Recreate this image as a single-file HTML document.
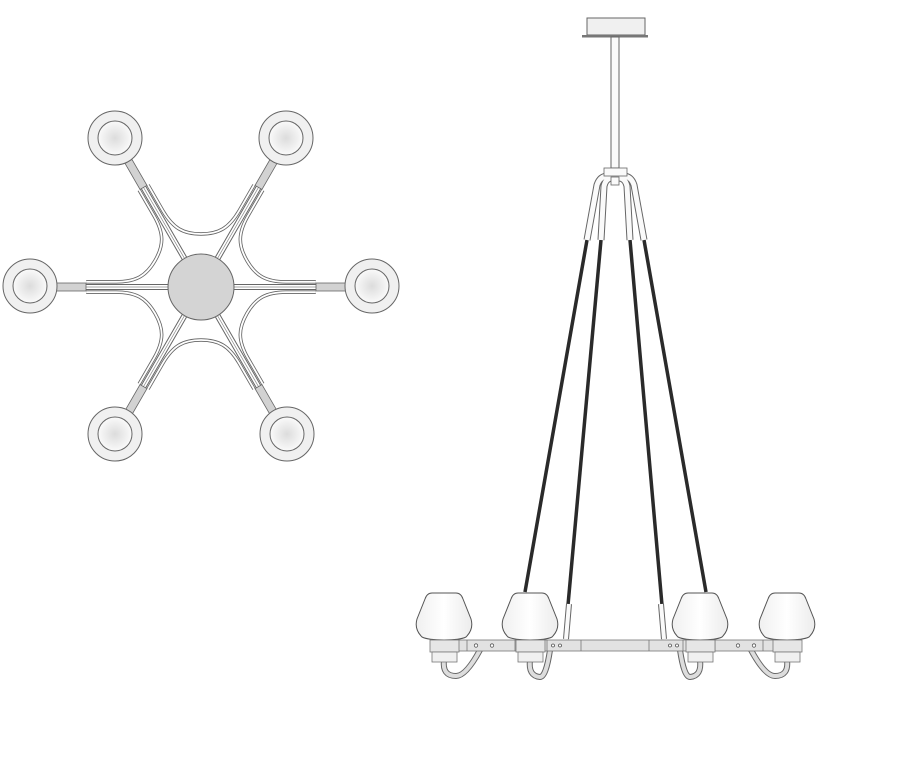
<!DOCTYPE html>
<html><head><style>html,body{margin:0;padding:0;background:#fff;}svg{display:block}</style></head>
<body>
<svg width="914" height="762" viewBox="0 0 914 762" xmlns="http://www.w3.org/2000/svg">
<defs>
<radialGradient id="bulb" cx="0.5" cy="0.5" r="0.5"><stop offset="0" stop-color="#dcdcdc"/><stop offset="1" stop-color="#fafafa"/></radialGradient>
<linearGradient id="shade" x1="0" x2="1"><stop offset="0" stop-color="#f0f0f0"/><stop offset="0.5" stop-color="#fff"/><stop offset="1" stop-color="#ececec"/></linearGradient>
<g id="arm">
<line x1="0" y1="0" x2="0" y2="-150" stroke="#666" stroke-width="6"/>
<line x1="0" y1="0" x2="0" y2="-150" stroke="#fff" stroke-width="4"/>
<line x1="0" y1="0" x2="0" y2="-150" stroke="#888" stroke-width="0.7"/>
<rect x="-4" y="-145" width="8" height="30" fill="#d2d2d2" stroke="#666" stroke-width="0.8"/>
</g>
<g id="curve">
<path d="M-53,-102 L-38,-76 C-28,-59 -18,-53 0,-53 C18,-53 28,-59 38,-76 L53,-102" fill="none" stroke="#666" stroke-width="3.5"/>
<path d="M-53,-102 L-38,-76 C-28,-59 -18,-53 0,-53 C18,-53 28,-59 38,-76 L53,-102" fill="none" stroke="#fff" stroke-width="1.8"/>
</g>
<g id="lamp">
<circle r="27" fill="#f0f0f0" stroke="#666" stroke-width="1"/>
<circle r="17" fill="url(#bulb)" stroke="#666" stroke-width="1"/>
</g>
<g id="shadeg">
<path d="M-12,0 L12,0 Q17,0 19,6 L27,26 Q30,36 22,44 Q16,47 0,47 Q-16,47 -22,44 Q-30,36 -27,26 L-19,6 Q-17,0 -12,0 Z" fill="url(#shade)" stroke="#555" stroke-width="1"/>
<rect x="-14" y="47" width="29" height="12" fill="#e6e6e6" stroke="#777" stroke-width="0.8"/>
<rect x="-12" y="59" width="25" height="10" fill="#f0f0f0" stroke="#777" stroke-width="0.8"/>
</g>
</defs>

<g transform="translate(201,287)">
<use href="#curve"/>
<use href="#curve" transform="rotate(60)"/>
<use href="#curve" transform="rotate(120)"/>
<use href="#curve" transform="rotate(180)"/>
<use href="#curve" transform="rotate(240)"/>
<use href="#curve" transform="rotate(300)"/>
<use href="#arm" transform="rotate(-30)"/>
<use href="#arm" transform="rotate(30)"/>
<use href="#arm" transform="rotate(90)"/>
<use href="#arm" transform="rotate(150)"/>
<use href="#arm" transform="rotate(210)"/>
<use href="#arm" transform="rotate(270)"/>
<circle r="33" fill="#d4d4d4" stroke="#666" stroke-width="1"/>
</g>
<use href="#lamp" x="115" y="138"/>
<use href="#lamp" x="286" y="138"/>
<use href="#lamp" x="30" y="286"/>
<use href="#lamp" x="372" y="286"/>
<use href="#lamp" x="115" y="434"/>
<use href="#lamp" x="287" y="434"/>

<rect x="587" y="18" width="58" height="17" fill="#f0f0f0" stroke="#666" stroke-width="1"/>
<rect x="582" y="35" width="66" height="2.5" fill="#777"/>
<rect x="611" y="37" width="8" height="131" fill="#fafafa" stroke="#666" stroke-width="1"/>
<g stroke="#2a2a2a" stroke-width="3.5" fill="none">
<line x1="587" y1="240" x2="525" y2="592"/>
<line x1="601" y1="240" x2="568" y2="605"/>
<line x1="630" y1="240" x2="662" y2="605"/>
<line x1="644" y1="240" x2="706" y2="592"/>
</g>
<g stroke="#666" stroke-width="7" fill="none">
<path d="M587,240 L597,185 Q600,176 608,176"/>
<path d="M601,240 L604,186 Q606,178 612,178"/>
<path d="M630,240 L627,186 Q625,178 619,178"/>
<path d="M644,240 L634,185 Q631,176 623,176"/>
</g>
<g stroke="#fafafa" stroke-width="5" fill="none">
<path d="M587,240 L597,185 Q600,176 608,176"/>
<path d="M601,240 L604,186 Q606,178 612,178"/>
<path d="M630,240 L627,186 Q625,178 619,178"/>
<path d="M644,240 L634,185 Q631,176 623,176"/>
</g>
<rect x="604" y="168" width="23" height="8" fill="#fafafa" stroke="#666" stroke-width="0.8"/>
<rect x="611" y="177" width="8" height="8" fill="#fafafa" stroke="#666" stroke-width="0.8"/>
<g stroke="#666" stroke-width="6"><line x1="569" y1="604" x2="566" y2="639"/><line x1="661" y1="604" x2="664" y2="639"/></g>
<g stroke="#fafafa" stroke-width="4"><line x1="569" y1="604" x2="566" y2="639"/><line x1="661" y1="604" x2="664" y2="639"/></g>

<g fill="none" stroke="#666" stroke-width="6" stroke-linecap="round">
<path d="M444,660 Q442,676 456,676 Q466,676 480,650"/>
<path d="M530,660 Q528,676 540,677 Q546,677 550,650"/>
<path d="M700,660 Q702,676 690,677 Q684,677 680,650"/>
<path d="M787,660 Q789,676 775,676 Q765,676 751,650"/>
</g>
<g fill="none" stroke="#ddd" stroke-width="4" stroke-linecap="round">
<path d="M444,660 Q442,676 456,676 Q466,676 480,650"/>
<path d="M530,660 Q528,676 540,677 Q546,677 550,650"/>
<path d="M700,660 Q702,676 690,677 Q684,677 680,650"/>
<path d="M787,660 Q789,676 775,676 Q765,676 751,650"/>
</g>
<rect x="456" y="640" width="345" height="11" fill="#e2e2e2" stroke="#777" stroke-width="0.8"/>
<g stroke="#777" stroke-width="0.8">
<line x1="467" y1="640" x2="467" y2="651"/><line x1="515" y1="640" x2="515" y2="651"/>
<line x1="547" y1="640" x2="547" y2="651"/><line x1="581" y1="640" x2="581" y2="651"/>
<line x1="649" y1="640" x2="649" y2="651"/><line x1="683" y1="640" x2="683" y2="651"/>
<line x1="715" y1="640" x2="715" y2="651"/><line x1="763" y1="640" x2="763" y2="651"/>
</g>
<g fill="#fff" stroke="#555" stroke-width="0.8">
<circle cx="476" cy="645.5" r="1.7"/><circle cx="492" cy="645.5" r="1.7"/>
<circle cx="553" cy="645.5" r="1.5"/><circle cx="560" cy="645.5" r="1.5"/>
<circle cx="670" cy="645.5" r="1.5"/><circle cx="677" cy="645.5" r="1.5"/>
<circle cx="738" cy="645.5" r="1.7"/><circle cx="754" cy="645.5" r="1.7"/>
</g>
<use href="#shadeg" x="444" y="593"/>
<use href="#shadeg" x="530" y="593"/>
<use href="#shadeg" x="700" y="593"/>
<use href="#shadeg" x="787" y="593"/>
</svg>
</body></html>
